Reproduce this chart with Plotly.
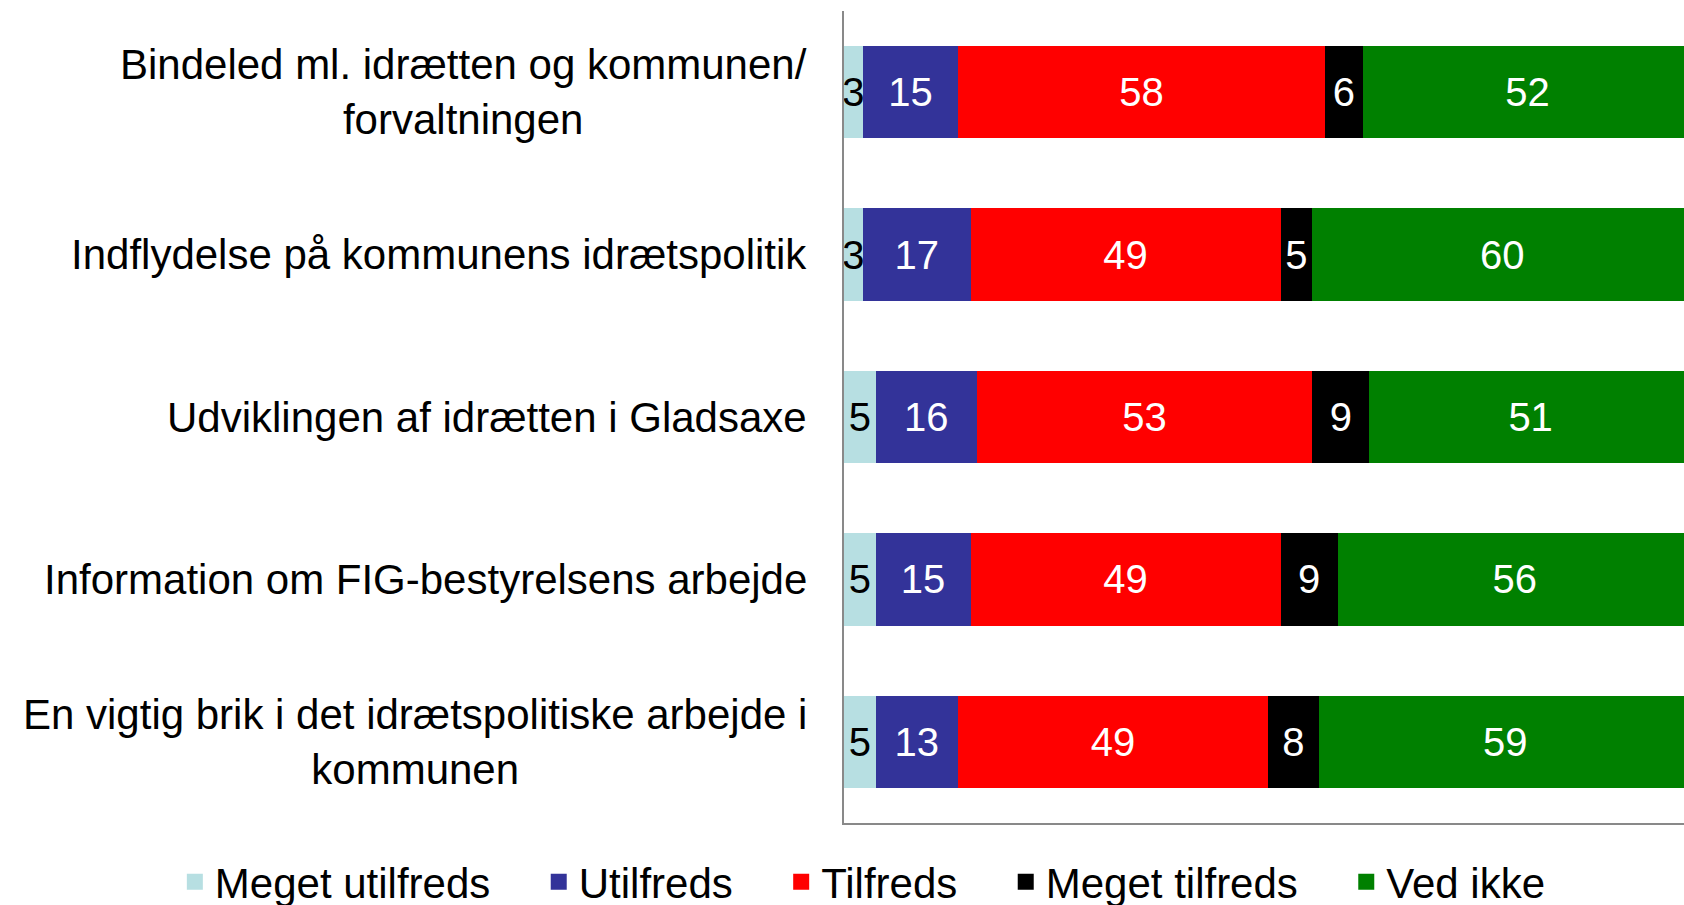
import plotly.graph_objects as go

categories = [
    "Bindeled ml. idrætten og kommunen/<br>forvaltningen",
    "Indflydelse på kommunens idrætspolitik",
    "Udviklingen af idrætten i Gladsaxe",
    "Information om FIG-bestyrelsens arbejde",
    "En vigtig brik i det idrætspolitiske arbejde i<br>kommunen",
]
series_names = ["Meget utilfreds", "Utilfreds", "Tilfreds", "Meget tilfreds", "Ved ikke"]
meget_utilfreds = [3, 3, 5, 5, 5]
utilfreds = [15, 17, 16, 15, 13]
tilfreds = [58, 49, 53, 49, 49]
meget_tilfreds = [6, 5, 9, 9, 8]
ved_ikke = [52, 60, 51, 56, 59]

series_values = [meget_utilfreds, utilfreds, tilfreds, meget_tilfreds, ved_ikke]
colors = ["#B7DFE2", "#333399", "#FF0000", "#000000", "#008000"]
text_colors = ["#000000", "#FFFFFF", "#FFFFFF", "#FFFFFF", "#FFFFFF"]

FONT = "Liberation Sans, Arial, sans-serif"
ylabels = list(range(len(categories)))
PAD = "\u00a0\u00a0\u00a0\u2009"

fig = go.Figure()
for name, vals, col, tcol in zip(series_names, series_values, colors, text_colors):
    fig.add_trace(go.Bar(
        y=ylabels, x=vals, name=name, orientation="h",
        marker=dict(color=col, line=dict(width=0)),
        text=[str(v) for v in vals], textposition="inside",
        insidetextanchor="middle", constraintext="none",
        textfont=dict(family=FONT, size=40, color=tcol),
        cliponaxis=False, hoverinfo="skip", showlegend=False,
    ))

# legend entries (square swatches)
for i, (name, col) in enumerate(zip(series_names, colors)):
    label = name + (PAD if i < len(series_names) - 1 else "")
    fig.add_trace(go.Scatter(
        x=[None], y=[None], mode="markers", name=label,
        marker=dict(symbol="square", size=22, color=col, line=dict(width=0)),
        showlegend=True, hoverinfo="skip",
    ))

for i, cat in enumerate(categories):
    fig.add_annotation(
        x=0, xref="paper", y=i, yref="y", text=cat, showarrow=False,
        xanchor="right", yanchor="middle", align="center", xshift=-35,
        font=dict(family=FONT, size=42, color="#000000"),
    )

fig.update_layout(
    width=1692, height=905,
    margin=dict(l=844, r=0, t=11, b=82, autoexpand=False),
    barmode="stack", bargap=0.43,
    plot_bgcolor="white", paper_bgcolor="white",
    font=dict(family=FONT, size=42, color="#000000"),
    showlegend=True,
    legend=dict(orientation="h", x=-0.7891, xanchor="left", y=-0.0727, yanchor="middle",
                font=dict(family=FONT, size=42, color="#000000"),
                traceorder="normal", itemwidth=30, itemsizing="trace",
                bgcolor="rgba(0,0,0,0)"),
    xaxis=dict(range=[0, 134], showline=True, linecolor="#898989", linewidth=1.5,
               showticklabels=False, showgrid=False, zeroline=False, ticks="",
               fixedrange=True),
    yaxis=dict(range=[4.5, -0.5], showline=True, linecolor="#898989", linewidth=1.5,
               showticklabels=False, showgrid=False, zeroline=False, ticks="",
               fixedrange=True),
)

fig.write_html(
    "out.html",
    config={"displayModeBar": False},
    post_script="document.body.style.margin='0';document.body.style.overflow='hidden';",
)
